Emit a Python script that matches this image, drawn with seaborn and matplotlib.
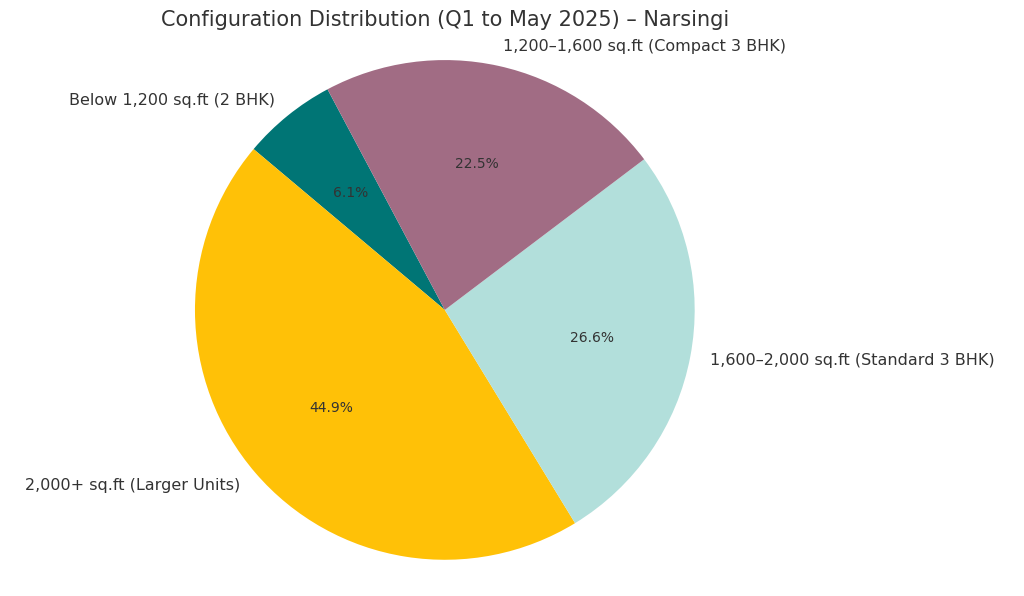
import matplotlib
matplotlib.use("Agg")
import matplotlib.pyplot as plt
import seaborn as sns

labels = [
    "Below 1,200 sq.ft (2 BHK)",
    "2,000+ sq.ft (Larger Units)",
    "1,600\u20132,000 sq.ft (Standard 3 BHK)",
    "1,200\u20131,600 sq.ft (Compact 3 BHK)",
]
shares = [6.1, 44.9, 26.6, 22.5]
colors = ["#007575", "#FFC107", "#B2DFDB", "#A16C84"]

sns.set_theme(style="white")
fig = plt.figure(figsize=(10.24, 5.96), dpi=100)
# pie uses limits of +-1.25, so the axes box is 1.25x the pie diameter
ax = fig.add_axes([0.1294, -0.0445, 0.610, 1.049])
wedges, texts, autotexts = ax.pie(
    shares,
    labels=labels,
    colors=colors,
    startangle=118,
    autopct="%1.1f%%",
    pctdistance=0.6,
    labeldistance=1.08,
    wedgeprops={"edgecolor": "none"},
    textprops={"fontsize": 11.5, "color": "#333333"},
)
for t in autotexts:
    t.set_fontsize(10)
ax.set_aspect("equal")
fig.text(0.435, 0.966, "Configuration Distribution (Q1 to May 2025) \u2013 Narsingi",
         ha="center", va="center", fontsize=15, color="#333333")
fig.savefig("out.png", dpi=100)
